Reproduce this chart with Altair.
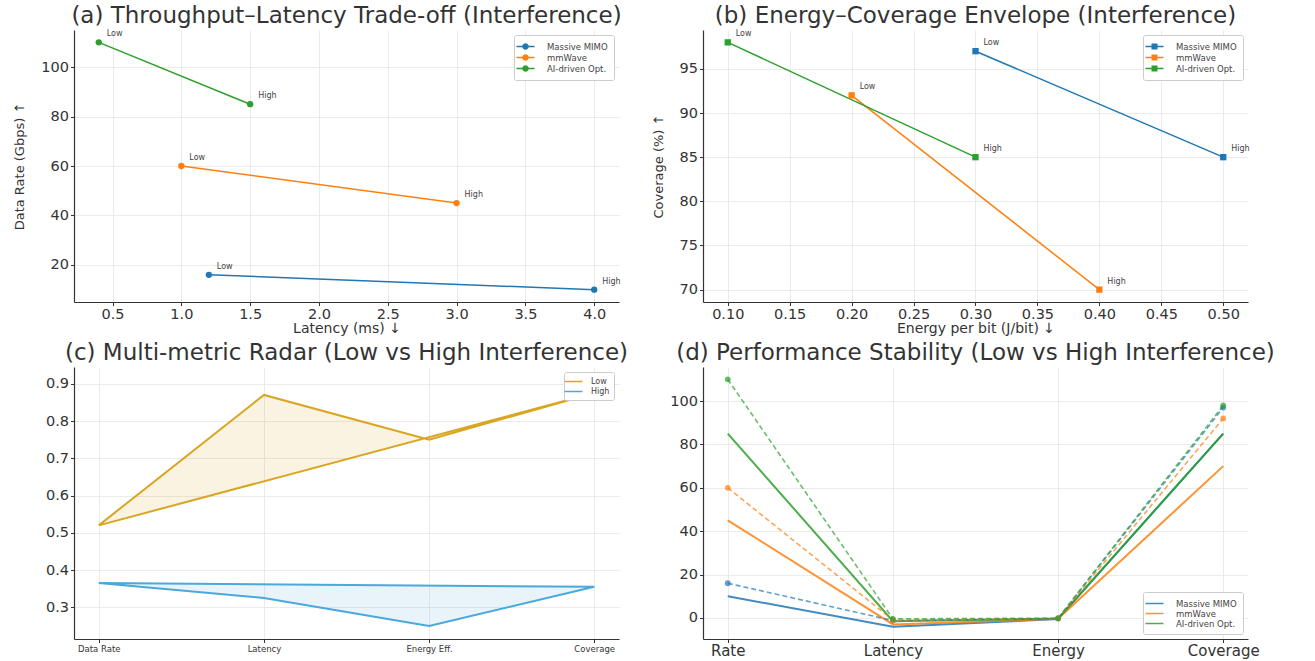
import altair as alt
import pandas as pd

# ---------------- data ----------------
systems = ["Massive MIMO", "mmWave", "AI-driven Opt."]
sys_colors = ["#1f77b4", "#ff7f0e", "#2ca02c"]

latency_low = [1.2, 1.0, 0.4]
latency_high = [4.0, 3.0, 1.5]
rate_low = [16, 60, 110]
rate_high = [10, 45, 85]
energy_low = [0.3, 0.2, 0.1]
energy_high = [0.5, 0.4, 0.3]
coverage_low = [97, 92, 98]
coverage_high = [85, 70, 85]

radar_axes = ["Data Rate", "Latency", "Energy Eff.", "Coverage"]
radar_low = [0.52, 0.87, 0.75, 0.875]
radar_high = [0.365, 0.325, 0.25, 0.355]
radar_series = ["Low", "High"]
radar_colors = ["#DAA520", "#4AA8DB"]

stab_metrics = ["Rate", "Latency", "Energy", "Coverage"]

FONT = "DejaVu Sans"
W, H = 545, 272

# ---------------- tables ----------------
df = pd.DataFrame({
    "system": systems * 2,
    "level": ["Low"] * 3 + ["High"] * 3,
    "latency": latency_low + latency_high,
    "rate": rate_low + rate_high,
    "energy": energy_low + energy_high,
    "coverage": coverage_low + coverage_high,
})

rows_c = []
for series, vals in (("Low", radar_low), ("High", radar_high)):
    closed_axes = radar_axes + [radar_axes[0]]
    closed_vals = vals + [vals[0]]
    for i, (a, v) in enumerate(zip(closed_axes, closed_vals)):
        rows_c.append({"series": series, "axis": a, "value": v, "ord": i})
df_c = pd.DataFrame(rows_c)

rows_d = []
for i, s in enumerate(systems):
    for level, r, l, e, c in (("Low", rate_low, latency_low, energy_low, coverage_low),
                              ("High", rate_high, latency_high, energy_high, coverage_high)):
        for m, v in zip(stab_metrics, [r[i], -l[i], -e[i], c[i]]):
            rows_d.append({"system": s, "level": level, "metric": m, "value": v})
df_d = pd.DataFrame(rows_d)

color_scale = alt.Scale(domain=systems, range=sys_colors)

LINE_SYM = "M-2,0H2"
CIRCLE_SYM = "M-2,0H2M-0.55,0A0.55,0.55,0,1,0,0.55,0A0.55,0.55,0,1,0,-0.55,0Z"
SQUARE_SYM = "M-2,0H2M-0.5,-0.5H0.5V0.5H-0.5Z"


def small_legend(sym, orient="top-right", pad=6, font=8.5, offset=16):
    return alt.Legend(title=None, orient=orient, offset=5, symbolType=sym,
                      symbolSize=81, symbolStrokeWidth=1.5, labelFontSize=font,
                      labelFont=FONT, labelColor="#444", padding=pad, rowPadding=0,
                      labelOffset=offset, strokeColor="#cccccc", fillColor="white",
                      cornerRadius=2, labelLimit=200)


# ---------------- (a) ----------------
leg_a = small_legend(CIRCLE_SYM)
xa = alt.X("latency:Q", scale=alt.Scale(domain=[0.22, 4.18], nice=False, zero=False),
           axis=alt.Axis(title="Latency (ms) ↓", values=[0.5, 1, 1.5, 2, 2.5, 3, 3.5, 4], format=".1f"))
ya = alt.Y("rate:Q", scale=alt.Scale(domain=[5, 115], nice=False, zero=False),
           axis=alt.Axis(title="Data Rate (Gbps) ↑", values=[20, 40, 60, 80, 100]))
ca = alt.Color("system:N", scale=color_scale, sort=systems, legend=leg_a)
base_a = alt.Chart(df).encode(x=xa, y=ya)
line_a = base_a.mark_line(strokeWidth=1.5).encode(color=ca, detail="system:N")
pts_a = base_a.mark_point(filled=True, size=40, opacity=1).encode(color=ca)
txt_a = base_a.mark_text(align="left", dx=8, dy=-8, fontSize=8, font=FONT, color="#444").encode(text="level:N")
chart_a = alt.layer(line_a, pts_a, txt_a).properties(
    width=W, height=H, title="(a) Throughput–Latency Trade-off (Interference)")

# ---------------- (b) ----------------
leg_b = small_legend(SQUARE_SYM)
xb = alt.X("energy:Q", scale=alt.Scale(domain=[0.08, 0.52], nice=False, zero=False),
           axis=alt.Axis(title="Energy per bit (J/bit) ↓",
                         values=[0.1, 0.15, 0.2, 0.25, 0.3, 0.35, 0.4, 0.45, 0.5], format=".2f"))
yb = alt.Y("coverage:Q", scale=alt.Scale(domain=[68.6, 99.4], nice=False, zero=False),
           axis=alt.Axis(title="Coverage (%) ↑", values=[70, 75, 80, 85, 90, 95]))
cb = alt.Color("system:N", scale=color_scale, sort=systems, legend=leg_b)
base_b = alt.Chart(df).encode(x=xb, y=yb)
line_b = base_b.mark_line(strokeWidth=1.5).encode(color=cb, detail="system:N")
pts_b = base_b.mark_point(filled=True, size=40, shape="square", opacity=1).encode(color=cb)
txt_b = base_b.mark_text(align="left", dx=8, dy=-8, fontSize=8, font=FONT, color="#444").encode(text="level:N")
chart_b = alt.layer(line_b, pts_b, txt_b).properties(
    width=W, height=H, title="(b) Energy–Coverage Envelope (Interference)")

# ---------------- (c) ----------------
rc_scale = alt.Scale(domain=radar_series, range=radar_colors)
leg_c = small_legend(LINE_SYM, pad=4, font=8, offset=12)
chart_c = alt.Chart(df_c).mark_line(strokeWidth=2, fillOpacity=0.13).encode(
    x=alt.X("axis:N", sort=radar_axes,
            scale=alt.Scale(type="point", domain=radar_axes, padding=0.15),
            axis=alt.Axis(title=None, labelAngle=0, labelFontSize=8.5, grid=True)),
    y=alt.Y("value:Q", scale=alt.Scale(domain=[0.215, 0.945], nice=False, zero=False),
            axis=alt.Axis(title=None, values=[0.3, 0.4, 0.5, 0.6, 0.7, 0.8, 0.9], format=".1f")),
    color=alt.Color("series:N", scale=rc_scale, sort=radar_series, legend=leg_c),
    fill=alt.Fill("series:N", scale=rc_scale, sort=radar_series, legend=None),
    order="ord:Q",
).properties(width=W, height=H, title="(c) Multi-metric Radar (Low vs High Interference)")

# ---------------- (d) ----------------
leg_d = small_legend(LINE_SYM, orient="bottom-right")
xd = alt.X("metric:N", sort=stab_metrics,
           scale=alt.Scale(type="point", domain=stab_metrics, padding=0.15),
           axis=alt.Axis(title=None, labelAngle=0, labelFontSize=15, labelPadding=1, grid=True))
yd = alt.Y("value:Q", scale=alt.Scale(domain=[-9.7, 115.7], nice=False, zero=False),
           axis=alt.Axis(title=None, values=[0, 20, 40, 60, 80, 100]))
cd = alt.Color("system:N", scale=color_scale, sort=systems, legend=leg_d)
base_d = alt.Chart(df_d).encode(x=xd, y=yd, color=cd, detail="system:N")
solid_d = base_d.transform_filter(alt.datum.level == "High").mark_line(strokeWidth=2, opacity=0.85)
dash_d = base_d.transform_filter(alt.datum.level == "Low").mark_line(strokeWidth=1.6, strokeDash=[5, 3], opacity=0.7)
pts_d = base_d.transform_filter(alt.datum.level == "Low").mark_point(filled=True, size=34, opacity=0.7)
chart_d = alt.layer(solid_d, dash_d, pts_d).properties(
    width=W, height=H, title="(d) Performance Stability (Low vs High Interference)")

chart = alt.concat(
    chart_a, chart_b, chart_c, chart_d, columns=2,
    spacing={"row": 65, "column": 84}, bounds="flush",
).resolve_scale(color="independent", fill="independent").properties(
    padding={"left": 13, "top": 5, "right": 5, "bottom": 0}
).configure_view(stroke=None).configure_axis(
    domainColor="#333333", tickColor="#333333", labelColor="#333333", titleColor="#333333",
    gridColor="#e6e6e6", gridWidth=0.8, labelFont=FONT, titleFont=FONT, titleFontWeight="normal",
    labelFontSize=14.5, titleFontSize=13, tickSize=3.5, labelPadding=2, domainWidth=1.2,
).configure_axisY(titlePadding=14).configure_axisX(titlePadding=0, titleFontSize=14).configure_title(
    font=FONT, fontSize=23, fontWeight="normal", color="#333333", anchor="middle", offset=2
)

chart.save("out.html", embed_options={"renderer": "svg", "actions": False})
